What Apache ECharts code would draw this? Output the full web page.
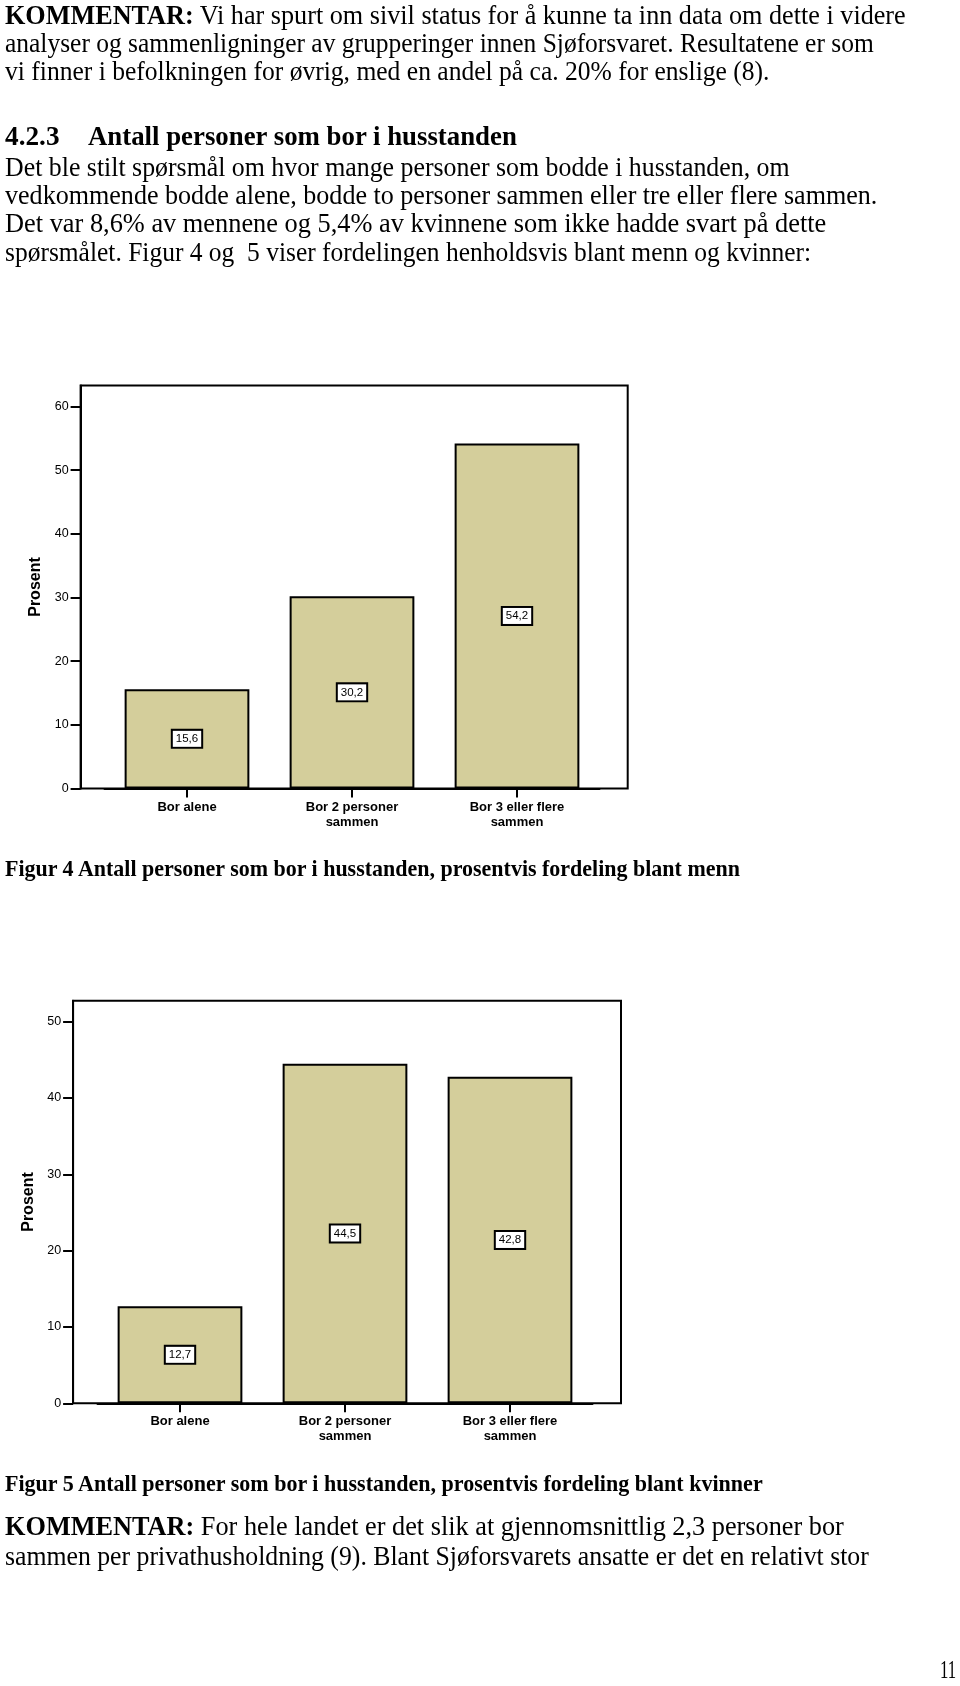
<!DOCTYPE html>
<html><head><meta charset="utf-8">
<script src="https://cdn.jsdelivr.net/npm/echarts@6/dist/echarts.min.js"></script>
<style>
html,body{margin:0;padding:0;background:#fff;width:960px;height:1686px;overflow:hidden}
#chart{position:absolute;left:0;top:0;width:960px;height:1686px}
.t{position:absolute;white-space:nowrap;font-family:"Liberation Serif","Times New Roman",serif;color:#000;transform-origin:0 50%;z-index:2}
</style></head><body>
<div id="chart"></div>
<div id="text"></div>
<script>
// ---- data ----
const categories = ['Bor alene', 'Bor 2 personer\nsammen', 'Bor 3 eller flere\nsammen'];
const menValues = [15.6, 30.2, 54.2];
const womenValues = [12.7, 44.5, 42.8];
const menTicks = [0, 10, 20, 30, 40, 50, 60];
const womenTicks = [0, 10, 20, 30, 40, 50];
const menMax = 63.3;
const womenMax = 52.75;
const yName = 'Prosent';

// ---- page text ----
const textLines = [
  {h:'<b>KOMMENTAR:</b> Vi har spurt om sivil status for å kunne ta inn data om dette i videre', x:5, y:15, w:901, s:27},
  {h:'analyser og sammenligninger av grupperinger innen Sjøforsvaret. Resultatene er som', x:5, y:43, w:869, s:27},
  {h:'vi finner i befolkningen for øvrig, med en andel på ca. 20% for enslige (8).', x:5, y:71, w:764, s:27},
  {h:'<b>4.2.3</b>', x:5, y:136.5, w:54.5, s:27},
  {h:'<b>Antall personer som bor i husstanden</b>', x:88, y:136.5, w:429, s:27},
  {h:'Det ble stilt spørsmål om hvor mange personer som bodde i husstanden, om', x:5, y:167.7, w:785, s:27},
  {h:'vedkommende bodde alene, bodde to personer sammen eller tre eller flere sammen.', x:5, y:195.7, w:872, s:27},
  {h:'Det var 8,6% av mennene og 5,4% av kvinnene som ikke hadde svart på dette', x:5, y:223.6, w:821, s:27},
  {h:'spørsmålet. Figur 4 og&nbsp; 5 viser fordelingen henholdsvis blant menn og kvinner:', x:5, y:252.6, w:806, s:27},
  {h:'<b>Figur 4 Antall personer som bor i husstanden, prosentvis fordeling blant menn</b>', x:5, y:868.6, w:735, s:23},
  {h:'<b>Figur 5 Antall personer som bor i husstanden, prosentvis fordeling blant kvinner</b>', x:5, y:1483.5, w:758, s:23},
  {h:'<b>KOMMENTAR:</b> For hele landet er det slik at gjennomsnittlig 2,3 personer bor', x:5, y:1526.5, w:839, s:27},
  {h:'sammen per privathusholdning (9). Blant Sjøforsvarets ansatte er det en relativt stor', x:5, y:1556.6, w:864, s:27},
  {h:'11', x:940, y:1669.5, w:16, s:25}
];
const holder = document.getElementById('text');
textLines.forEach(l => {
  const d = document.createElement('div');
  d.className = 't';
  d.innerHTML = l.h;
  d.style.fontSize = l.s + 'px';
  d.style.lineHeight = l.s + 'px';
  d.style.left = l.x + 'px';
  d.style.top = (l.y - l.s / 2) + 'px';
  holder.appendChild(d);
  const sx = l.w / d.offsetWidth;
  d.style.transform = 'scaleX(' + sx + ')';
});

// ---- chart ----
const FONT = '"Liberation Sans", Arial, sans-serif';
const fmt = v => v.toFixed(1).replace('.', ',');

function frameAxisY(gi, max, ticks, gap) {
  return {
    gridIndex: gi, type: 'value', min: 0, max: max, interval: 10,
    axisLine: {show: true, lineStyle: {color: '#000', width: 2}},
    axisTick: {show: true, length: 10, customValues: ticks, lineStyle: {color: '#000', width: 2}},
    axisLabel: {customValues: ticks, margin: 12, fontSize: 12.5, color: '#000', fontFamily: FONT},
    splitLine: {show: false},
    name: yName, nameLocation: 'middle', nameGap: gap,
    nameTextStyle: {fontWeight: 'bold', fontSize: 16, color: '#000', fontFamily: FONT}
  };
}
function innerAxisX(gi) {
  return {
    gridIndex: gi, type: 'category', data: categories,
    axisLine: {show: true, lineStyle: {color: '#000', width: 2}},
    axisTick: {show: true, alignWithLabel: true, length: 9, lineStyle: {color: '#000', width: 2}},
    axisLabel: {interval: 0, margin: 11, fontSize: 13, lineHeight: 15, fontWeight: 'bold', color: '#000', fontFamily: FONT}
  };
}
function barSeries(xi, yi, data) {
  return {
    type: 'bar', xAxisIndex: xi, yAxisIndex: yi, data: data,
    barCategoryGap: '24.4%',
    itemStyle: {color: '#d4ce9b', borderColor: '#000', borderWidth: 2},
    label: {
      show: true, position: 'inside', formatter: p => fmt(p.value),
      backgroundColor: '#fff', borderColor: '#000', borderWidth: 2,
      padding: [2, 3], fontSize: 11.5, lineHeight: 12, color: '#000', fontFamily: FONT
    },
    emphasis: {disabled: true}
  };
}

const chart = echarts.init(document.getElementById('chart'), null, {renderer: 'canvas'});
chart.setOption({
  animation: false,
  backgroundColor: 'transparent',
  grid: [
    {left: 80.6, top: 385.5, width: 547.1, height: 403, show: true, borderColor: '#000', borderWidth: 2, backgroundColor: 'transparent'},
    {left: 104.5, top: 385.5, width: 495, height: 403},
    {left: 73.1, top: 1000.7, width: 547.9, height: 402.6, show: true, borderColor: '#000', borderWidth: 2, backgroundColor: 'transparent'},
    {left: 97.5, top: 1000.7, width: 495, height: 402.6}
  ],
  xAxis: [
    {gridIndex: 0, type: 'value', show: false, min: 0, max: 1},
    innerAxisX(1),
    {gridIndex: 2, type: 'value', show: false, min: 0, max: 1},
    innerAxisX(3)
  ],
  yAxis: [
    frameAxisY(0, menMax, menTicks, 35),
    {gridIndex: 1, type: 'value', min: 0, max: menMax, show: false},
    frameAxisY(2, womenMax, womenTicks, 34),
    {gridIndex: 3, type: 'value', min: 0, max: womenMax, show: false}
  ],
  series: [
    barSeries(1, 1, menValues),
    barSeries(3, 3, womenValues)
  ]
});
</script>
</body></html>
